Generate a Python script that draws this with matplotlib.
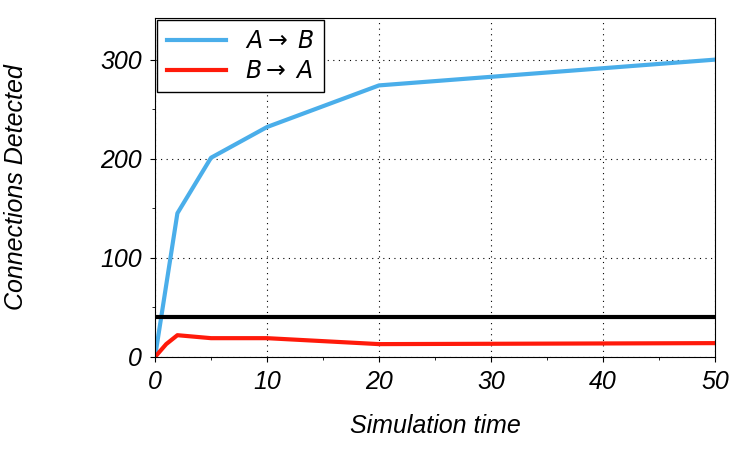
import matplotlib
matplotlib.use("Agg")
import matplotlib.pyplot as plt
from matplotlib.ticker import MultipleLocator

t_ab = [0, 2, 5, 10, 20, 50]
ab = [0, 145, 201, 232, 274, 300]
t_ba = [0, 1, 2, 5, 10, 20, 50]
ba = [0, 13, 22, 19, 19, 13, 14]
threshold = 40

plt.rcParams['font.family'] = 'Liberation Sans'
plt.rcParams['font.style'] = 'italic'
fig = plt.figure(figsize=(7.47, 4.49), dpi=100)
ax = fig.add_axes([155/747, 1-357/449, 560/747, 339/449])
ax.plot(t_ab, ab, color='#4aaeea', lw=3, label=r'$A\rightarrow\;B$')
ax.plot(t_ba, ba, color='#ff1a0a', lw=3, label=r'$B\rightarrow\;A$')
ax.axhline(threshold, color='black', lw=3)
ax.set_xlim(0, 50); ax.set_ylim(0, 342)
ax.xaxis.set_major_locator(MultipleLocator(10)); ax.xaxis.set_minor_locator(MultipleLocator(5))
ax.yaxis.set_major_locator(MultipleLocator(100)); ax.yaxis.set_minor_locator(MultipleLocator(50))
ax.grid(True, which='major', color='black', ls=(0, (1, 4)), lw=0.8)
ax.tick_params(labelsize=18, direction='out', pad=6)
ax.set_xlabel('Simulation time', fontsize=18, labelpad=14)
ax.set_ylabel('Connections Detected', fontsize=18, labelpad=52)
leg = ax.legend(loc='upper left', fontsize=17, fancybox=False, edgecolor='black', framealpha=1,
                borderaxespad=0.1, handlelength=2.5, labelspacing=0.3)
leg.get_frame().set_linewidth(1)
fig.savefig('out.png', dpi=100)
